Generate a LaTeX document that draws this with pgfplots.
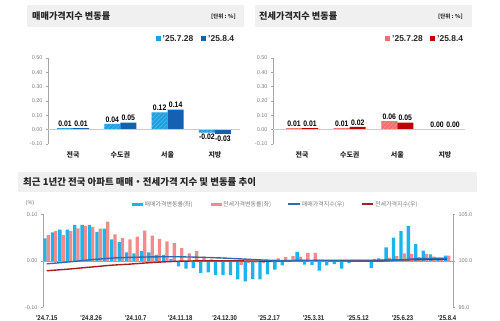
\documentclass[border=0pt]{standalone}
\usepackage{pgfplots}
\pgfplotsset{compat=1.18}
\usepackage{pgfplotstable}
\usepackage{fontspec}
\setmainfont{Liberation Sans}
\newfontfamily\narrow{Liberation Sans}[FakeStretch=0.86]
\newfontfamily\kr{Noto Sans CJK KR}
\usetikzlibrary{patterns.meta}

\definecolor{bandgray}{HTML}{F0F0F0}
\definecolor{sblue}{HTML}{1EA0E0}
\definecolor{dblue}{HTML}{1560B0}
\definecolor{lred}{HTML}{F07070}
\definecolor{dred}{HTML}{C00000}
\definecolor{bblue}{HTML}{1EB4EB}
\definecolor{bred}{HTML}{F28C8C}
\definecolor{lblue}{HTML}{2E6BB0}
\definecolor{lredline}{HTML}{A81E1E}
\definecolor{txt}{HTML}{262626}
\definecolor{axgray}{HTML}{A6A6A6}
\definecolor{ticktxt}{HTML}{7F7F7F}

\pgfplotstableread{
i sale jeonse sidx jidx
0 0.048 0.056 99.68 98.93
1 0.061 0.064 99.74 98.99
2 0.067 0.055 99.81 99.05
3 0.067 0.064 99.88 99.11
4 0.077 0.070 99.96 99.18
5 0.077 0.075 100.04 99.26
6 0.077 0.073 100.12 99.33
7 0.062 0.069 100.18 99.40
8 0.069 0.084 100.25 99.48
9 0.046 0.057 100.30 99.54
10 0.040 0.049 100.34 99.59
11 0.018 0.046 100.36 99.63
12 0.016 0.052 100.38 99.69
13 0.021 0.065 100.40 99.75
14 0.018 0.054 100.42 99.80
15 0.013 0.047 100.43 99.85
16 0.013 0.042 100.44 99.89
17 0.004 0.038 100.44 99.93
18 -0.012 0.027 100.43 99.96
19 -0.017 0.016 100.41 99.97
20 -0.016 0.021 100.40 99.99
21 -0.026 0.009 100.37 100.00
22 -0.025 0.003 100.35 100.00
23 -0.031 0.001 100.32 100.00
24 -0.031 0.000 100.29 100.00
25 -0.031 -0.003 100.25 100.00
26 -0.040 -0.009 100.21 99.99
27 -0.044 -0.005 100.17 99.98
28 -0.039 -0.004 100.13 99.98
29 -0.040 -0.005 100.09 99.97
30 -0.029 0.000 100.06 99.97
31 -0.019 0.005 100.04 99.98
32 -0.010 0.008 100.03 99.99
33 0.002 0.010 100.03 100.00
34 0.019 0.009 100.05 100.01
35 -0.008 0.017 100.04 100.02
36 -0.009 0.017 100.03 100.04
37 -0.021 0.002 100.01 100.04
38 -0.010 0.000 100.00 100.04
39 -0.007 0.000 99.99 100.04
40 -0.017 0.001 99.98 100.04
41 -0.005 0.002 99.97 100.05
42 0.000 0.002 99.97 100.05
43 0.000 0.002 99.97 100.05
44 -0.016 0.004 99.96 100.06
45 0.005 0.004 99.96 100.06
46 0.029 0.007 99.99 100.07
47 0.050 0.010 100.04 100.08
48 0.064 0.016 100.10 100.10
49 0.075 0.015 100.18 100.11
50 0.036 0.008 100.22 100.12
51 0.022 0.015 100.24 100.14
52 0.014 0.009 100.25 100.15
53 0.007 0.007 100.26 100.15
54 0.011 0.011 100.27 100.16
}\trend

\pgfplotsset{
  topbar/.style={
    scale only axis, width=192bp, height=86bp, anchor=south west,
    ymin=-0.1, ymax=0.5, clip=false,
    /pgf/number format/assume math mode=true,
    axis y line*=left, axis x line*=bottom,
    x axis line style={draw=none},
    y axis line style={axgray, line width=0.5bp},
    tick align=outside, major tick length=2bp,
    major x tick style={draw=none},
    major y tick style={axgray, line width=0.5bp},
    xtick={0,1,2,3}, xticklabels={전국,수도권,서울,지방},
    xticklabel style={font=\kr\bfseries\fontsize{7}{8}\selectfont, text=txt, yshift=-2bp},
    ytick={-0.1,0,0.1,0.2,0.3,0.4,0.5}, scaled y ticks=false,
    yticklabel style={font=\fontsize{5.5}{6}\selectfont, text=ticktxt,
      /pgf/number format/fixed, /pgf/number format/fixed zerofill, /pgf/number format/precision=2},
    ybar=0pt, bar width=16bp, point meta=y,
    nodes near coords={\pgfmathprintnumber[fixed,fixed zerofill,precision=2,assume math mode=true]{\pgfplotspointmeta}},
    every node near coord/.append style={font=\narrow\bfseries\fontsize{8}{9}\selectfont, text=black, inner sep=1.5bp},
  },
}

\begin{document}
\begin{tikzpicture}
\path[fill=white, use as bounding box] (0,0) rectangle (500bp,-321bp);

% ---------- top left panel ----------
\fill[bandgray] (27bp,-5bp) rectangle (244bp,-27bp);
\node[anchor=west, font=\kr\bfseries\fontsize{9.2}{11}\selectfont, text=txt, inner sep=0] at (32bp,-16bp) {매매가격지수 변동률};
\node[anchor=east, font=\kr\bfseries\fontsize{5.5}{6}\selectfont, text=txt, inner sep=0] at (236bp,-17bp) {[단위 : \%]};
\fill[sblue] (155.5bp,-35.7bp) rectangle (160.5bp,-40.7bp);
\node[anchor=west, font=\bfseries\fontsize{8.5}{9}\selectfont, text=txt, inner sep=0] at (162.5bp,-38.2bp) {'25.7.28};
\fill[dblue] (201bp,-35.7bp) rectangle (206bp,-40.7bp);
\node[anchor=west, font=\bfseries\fontsize{8.5}{9}\selectfont, text=txt, inner sep=0] at (208bp,-38.2bp) {'25.8.4};

\begin{axis}[topbar, at={(48bp,-144bp)}, xmin=-0.53, xmax=3.53]
\addplot[fill=sblue, draw=none, postaction={pattern={Lines[angle=45,distance=3bp,line width=0.7bp]}, pattern color=white!22!sblue}]
  coordinates {(0,0.01) (1,0.04) (2,0.12) (3,-0.02)};
\addplot[fill=dblue, draw=none]
  coordinates {(0,0.01) (1,0.05) (2,0.14) (3,-0.03)};
\draw[axgray!60, line width=0.4bp] (axis cs:-0.53,0) -- (axis cs:3.53,0);
\end{axis}

% ---------- top right panel ----------
\fill[bandgray] (255bp,-5bp) rectangle (472bp,-27bp);
\node[anchor=west, font=\kr\bfseries\fontsize{9.2}{11}\selectfont, text=txt, inner sep=0] at (259bp,-16bp) {전세가격지수 변동률};
\node[anchor=east, font=\kr\bfseries\fontsize{5.5}{6}\selectfont, text=txt, inner sep=0] at (463bp,-17bp) {[단위 : \%]};
\fill[lred] (385bp,-35.7bp) rectangle (390bp,-40.7bp);
\node[anchor=west, font=\bfseries\fontsize{8.5}{9}\selectfont, text=txt, inner sep=0] at (392bp,-38.2bp) {'25.7.28};
\fill[dred] (430bp,-35.7bp) rectangle (435bp,-40.7bp);
\node[anchor=west, font=\bfseries\fontsize{8.5}{9}\selectfont, text=txt, inner sep=0] at (437bp,-38.2bp) {'25.8.4};

\begin{axis}[topbar, at={(273bp,-144bp)}, xmin=-0.61, xmax=3.42]
\addplot[fill=lred, draw=none, postaction={pattern={Lines[angle=45,distance=3bp,line width=0.7bp]}, pattern color=white!22!lred}]
  coordinates {(0,0.01) (1,0.01) (2,0.06) (3,0.00)};
\addplot[fill=dred, draw=none]
  coordinates {(0,0.01) (1,0.02) (2,0.05) (3,0.00)};
\draw[axgray!60, line width=0.4bp] (axis cs:-0.61,0) -- (axis cs:3.42,0);
\end{axis}

% ---------- bottom panel ----------
\fill[bandgray] (18bp,-172bp) rectangle (477bp,-192bp);
\node[anchor=west, font=\kr\bfseries\fontsize{9.5}{11}\selectfont, text=txt, inner sep=0] at (23bp,-182bp) {최근 1년간 전국 아파트 매매・전세가격 지수 및 변동률 추이};

\node[font=\fontsize{5.5}{6}\selectfont, text=ticktxt, inner sep=0] at (30bp,-203.5bp) {(\%)};
\fill[bblue] (131.7bp,-202.7bp) rectangle (143.3bp,-205.7bp);
\node[anchor=west, font=\kr\fontsize{6}{7}\selectfont, text=ticktxt, inner sep=0] at (144.5bp,-204.2bp) {매매가격변동률(좌)};
\fill[bred] (211bp,-202.7bp) rectangle (221.7bp,-205.7bp);
\node[anchor=west, font=\kr\fontsize{6}{7}\selectfont, text=ticktxt, inner sep=0] at (223bp,-204.2bp) {전세가격변동률(좌)};
\draw[lblue, line width=1.6bp] (288.3bp,-204.2bp) -- (300bp,-204.2bp);
\node[anchor=west, font=\kr\fontsize{6}{7}\selectfont, text=ticktxt, inner sep=0] at (301.7bp,-204.2bp) {매매가격지수(우)};
\draw[lredline, line width=1.6bp] (361.7bp,-204.2bp) -- (373.3bp,-204.2bp);
\node[anchor=west, font=\kr\fontsize{6}{7}\selectfont, text=ticktxt, inner sep=0] at (375bp,-204.2bp) {전세가격지수(우)};

\begin{axis}[scale only axis, width=410bp, height=93bp, anchor=south west, at={(43bp,-307.3bp)},
  xmin=-0.5, xmax=54.8, ymin=-0.1, ymax=0.1, clip=false,
  /pgf/number format/assume math mode=true,
  axis y line*=left, axis x line*=bottom,
  x axis line style={draw=none},
  y axis line style={axgray, line width=0.5bp},
  tick align=outside, major tick length=2bp,
  major x tick style={draw=none},
  major y tick style={axgray, line width=0.5bp},
  xtick={0,6,12,18,24,30,36,42,48,54},
  xticklabels={'24.7.15,'24.8.26,'24.10.7,'24.11.18,'24.12.30,'25.2.17,'25.3.31,'25.5.12,'25.6.23,'25.8.4},
  xticklabel style={font=\narrow\bfseries\fontsize{7}{8}\selectfont, text=txt, yshift=-3bp},
  ytick={-0.1,0,0.1}, scaled y ticks=false,
  yticklabel style={font=\fontsize{5.5}{6}\selectfont, text=ticktxt,
    /pgf/number format/fixed, /pgf/number format/fixed zerofill, /pgf/number format/precision=2},
  ybar=0pt, bar width=3.3bp]
\addplot[fill=bblue, draw=none] table[x=i, y=sale]{\trend};
\addplot[fill=bred, draw=none] table[x=i, y=jeonse]{\trend};
\draw[axgray, line width=0.4bp] (axis cs:-0.5,0) -- (axis cs:54.8,0);
\end{axis}

\begin{axis}[scale only axis, width=410bp, height=93bp, anchor=south west, at={(43bp,-307.3bp)},
  xmin=-0.5, xmax=54.8, ymin=95, ymax=105,
  /pgf/number format/assume math mode=true,
  axis y line*=right, axis x line=none,
  y axis line style={axgray, line width=0.5bp},
  tick align=outside, major tick length=2bp,
  major y tick style={axgray, line width=0.5bp},
  ytick={95,100,105},
  yticklabel style={font=\fontsize{5.5}{6}\selectfont, text=ticktxt,
    /pgf/number format/fixed, /pgf/number format/fixed zerofill, /pgf/number format/precision=1}]
\addplot[lredline, line width=1.4bp, no marks] table[x=i, y=jidx]{\trend};
\addplot[lblue, line width=1.4bp, no marks] table[x=i, y=sidx]{\trend};
\end{axis}
\end{tikzpicture}
\end{document}
